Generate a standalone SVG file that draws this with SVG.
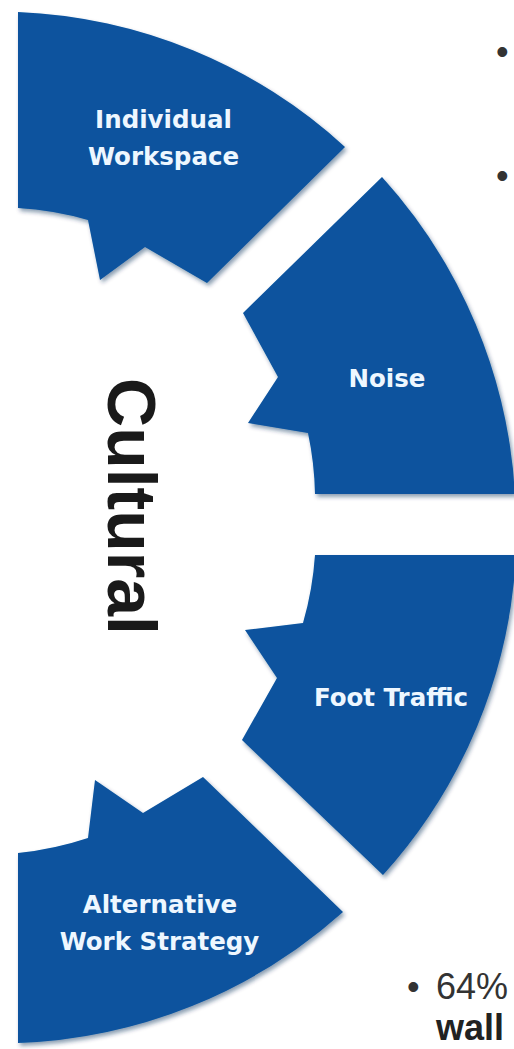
<svg xmlns="http://www.w3.org/2000/svg" width="514" height="1049" viewBox="0 0 514 1049">
  <defs>
    <filter id="shadow" x="-10%" y="-10%" width="120%" height="120%">
      <feGaussianBlur in="SourceAlpha" stdDeviation="2" result="b"/>
      <feOffset in="b" dx="2" dy="3" result="o"/>
      <feFlood flood-color="#0a2a55" flood-opacity="0.45"/>
      <feComposite in2="o" operator="in" result="s"/>
      <feMerge>
        <feMergeNode in="s"/>
        <feMergeNode in="SourceGraphic"/>
      </feMerge>
    </filter>
  </defs>
  <style>
    .seg { fill: #08529e; filter: url(#shadow); }
    .lbl { font-family: "DejaVu Sans", Verdana, sans-serif; font-weight: bold; font-size: 24.5px; fill: #eef7ff; text-anchor: middle; }
    .title { font-family: "Liberation Sans", Arial, sans-serif; font-weight: bold; font-size: 68px; fill: #1a1a1a; text-anchor: middle; }
    .body { font-family: "Liberation Sans", Arial, sans-serif; font-size: 36px; fill: #333333; }
    .bodyb { font-family: "Liberation Sans", Arial, sans-serif; font-size: 36px; font-weight: bold; fill: #222222; }
  </style>
  <rect width="514" height="1049" fill="#ffffff"/>

  <g id="connectors"/>

  <g id="node-individual-workspace">
    <path class="seg" d="M 18 12 A 515 515 0 0 1 345 147 L 207 283 L 145 247 L 100 280 L 88 220 A 319 319 0 0 0 18 208 Z"/>
    <text class="lbl" x="163.5" y="128">Individual</text>
    <text class="lbl" x="163.5" y="165">Workspace</text>
  </g>

  <g id="node-noise">
    <path class="seg" d="M 382 177 A 517 517 0 0 1 515 494 L 315 494 A 319 319 0 0 0 308 433 L 248 423 L 278 377 L 243 313 Z"/>
    <text class="lbl" x="387" y="387">Noise</text>
  </g>

  <g id="node-foot-traffic">
    <path class="seg" d="M 315 555 L 516 555 A 517 517 0 0 1 383 875 L 242 740 L 277 678 L 245 630 L 303 623 A 319 319 0 0 0 315 555 Z"/>
    <text class="lbl" x="391" y="706">Foot Traffic</text>
  </g>

  <g id="node-alternative-work-strategy">
    <path class="seg" d="M 18 853 A 323 323 0 0 0 88 838 L 95 780 L 143 813 L 203 777 L 343 912 A 515 515 0 0 1 18 1043 Z"/>
    <text class="lbl" x="160" y="913">Alternative</text>
    <text class="lbl" x="159.5" y="950">Work Strategy</text>
  </g>

  <g id="label-cultural">
    <text class="title" x="108" y="506.5" transform="rotate(90 108 506.5)">Cultural</text>
  </g>

  <g id="side-text">
    <text class="body" x="496" y="64">•</text>
    <text class="body" x="496" y="188">•</text>
    <text class="body" y="999"><tspan x="407">•</tspan><tspan x="436">64%</tspan></text>
    <text class="bodyb" x="436" y="1040">wall</text>
  </g>
</svg>
